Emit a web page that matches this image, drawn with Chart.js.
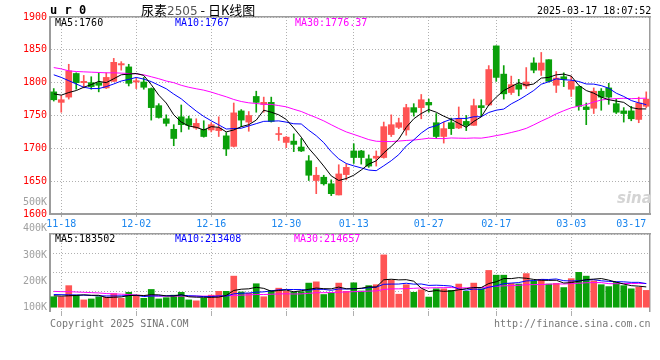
<!DOCTYPE html>
<html><head><meta charset="utf-8">
<script src="https://cdn.jsdelivr.net/npm/chart.js@4/dist/chart.umd.min.js"></script>
<style>
html,body{margin:0;padding:0;background:#fff;width:660px;height:360px;overflow:hidden;}
#wrap{position:relative;width:660px;height:360px;}
canvas{position:absolute;left:0;}
.t{position:absolute;white-space:nowrap;font-family:"DejaVu Sans Mono",monospace;font-size:10px;line-height:12px;}
</style></head><body>
<div id="wrap">
<canvas id="pc" width="660" height="234" style="top:0px"></canvas>
<canvas id="vc" width="660" height="124" style="top:196px"></canvas>
<div class="t" id="code" style="left:50px;top:3px;font-weight:bold;font-size:12px;line-height:14px;">u r 0</div>
<div class="t" id="ttl" style="left:141px;top:2px;font-family:'Noto Sans CJK SC',sans-serif;font-size:13px;line-height:16px;"></div>
<div class="t" id="stamp" style="left:537px;top:5px;"></div>
<div class="t" id="pl0" style="left:55px;top:17px;color:#000"></div>
<div class="t" id="pl1" style="left:175px;top:17px;color:#0000ff"></div>
<div class="t" id="pl2" style="left:295px;top:17px;color:#ff00ff"></div>
<div class="t" id="vl0" style="left:55px;top:233px;color:#000"></div>
<div class="t" id="vl1" style="left:175px;top:233px;color:#0000ff"></div>
<div class="t" id="vl2" style="left:294px;top:233px;color:#ff00ff"></div>
<div class="t" id="copy" style="left:50px;top:318px;color:#777"></div>
<div class="t" id="url" style="left:494px;top:318px;color:#777"></div>
<div class="t" id="wm" style="left:617px;top:190px;color:#d4d4d4;font-family:'DejaVu Sans',sans-serif;font-style:italic;font-weight:bold;font-size:15px;line-height:16px;">sina</div>
</div>
<script>
// ---- data ----
const dates = ['11-15','11-18','11-19','11-20','11-21','11-22','11-25','11-26','11-27','11-28','11-29','12-02','12-03','12-04','12-05','12-06','12-09','12-10','12-11','12-12','12-13','12-16','12-17','12-18','12-19','12-20','12-23','12-24','12-25','12-26','12-27','12-30','12-31','01-02','01-03','01-06','01-07','01-08','01-09','01-10','01-13','01-14','01-15','01-16','01-17','01-20','01-21','01-22','01-23','01-24','01-27','02-05','02-06','02-07','02-10','02-11','02-12','02-13','02-14','02-17','02-18','02-19','02-20','02-21','02-24','02-25','02-26','02-27','02-28','03-03','03-04','03-05','03-06','03-07','03-10','03-11','03-12','03-13','03-14','03-17'];
const xTickLabels = ['11-18','12-02','12-16','12-30','01-13','01-27','02-17','03-03','03-17'];
const priceTicks = [1600,1650,1700,1750,1800,1850,1900];
const volTickValues = [100000,200000,300000,400000,500000];
const volTickLabels = ['100K','200K','300K','400K','500K'];

const opens  = [1786,1770,1778,1814,1800,1800,1800,1792,1802,1827,1824,1801,1801,1791,1765,1745,1729,1748,1745,1731,1729,1728,1727,1719,1703,1757,1740,1779,1767,1770,1721,1709,1711,1702,1681,1651,1656,1646,1629,1660,1696,1696,1684,1685,1686,1721,1732,1728,1762,1762,1770,1739,1718,1739,1731,1741,1735,1765,1766,1856,1813,1785,1797,1795,1830,1819,1835,1796,1809,1790,1794,1763,1761,1787,1792,1768,1757,1757,1744,1764];
const highs  = [1791,1780,1828,1815,1811,1809,1815,1815,1837,1832,1828,1807,1808,1792,1768,1751,1736,1766,1749,1745,1742,1739,1748,1724,1769,1759,1756,1787,1778,1778,1732,1718,1722,1715,1689,1671,1659,1652,1675,1676,1707,1697,1690,1696,1740,1751,1746,1767,1768,1782,1775,1753,1740,1746,1763,1750,1775,1774,1826,1856,1826,1810,1805,1823,1838,1846,1835,1817,1815,1810,1795,1769,1792,1791,1799,1775,1762,1764,1778,1786];
const lows   = [1772,1755,1775,1790,1792,1790,1786,1791,1802,1819,1795,1791,1790,1743,1746,1734,1704,1725,1729,1729,1717,1725,1718,1689,1702,1733,1726,1755,1755,1740,1712,1701,1695,1695,1651,1631,1644,1628,1629,1652,1677,1676,1671,1673,1685,1718,1730,1720,1749,1745,1755,1715,1708,1721,1730,1727,1735,1749,1765,1802,1775,1782,1780,1791,1815,1811,1801,1785,1794,1779,1758,1736,1753,1758,1767,1753,1740,1742,1739,1762];
const closes = [1774,1774,1818,1800,1802,1794,1796,1808,1831,1829,1799,1803,1793,1762,1747,1738,1715,1736,1735,1738,1718,1736,1731,1699,1754,1743,1750,1770,1770,1741,1722,1717,1706,1696,1659,1659,1646,1631,1661,1671,1686,1686,1673,1688,1733,1736,1739,1762,1755,1774,1766,1718,1730,1730,1745,1735,1765,1762,1820,1808,1783,1797,1790,1801,1819,1830,1802,1807,1805,1802,1764,1759,1787,1778,1778,1755,1753,1745,1769,1775];

const ma5  = [1783,1781,1785,1788,1793,1797,1802,1800,1806,1812,1813,1814,1811,1797,1781,1769,1751,1740,1734,1732,1728,1733,1732,1725,1728,1733,1736,1743,1758,1755,1751,1744,1731,1717,1700,1687,1673,1658,1651,1654,1659,1667,1676,1681,1693,1703,1714,1732,1745,1753,1759,1755,1749,1744,1738,1732,1741,1748,1766,1778,1788,1794,1800,1796,1798,1807,1808,1812,1813,1810,1796,1788,1784,1778,1774,1772,1770,1762,1760,1760];
const ma10 = [1812,1808,1803,1798,1793,1791,1791,1794,1798,1802.5,1805,1808,1805.4,1801.6,1796.2,1790.7,1782.6,1775.4,1765.8,1756.7,1748.6,1741.9,1735.7,1729.4,1730.1,1730.6,1734.1,1737.6,1741.1,1741.4,1741.8,1739.9,1737.4,1737.1,1727.6,1719.2,1708.7,1694.8,1683.9,1676.9,1673.3,1670.2,1666.9,1666,1673.4,1681.2,1690.4,1703.6,1712.9,1723.3,1731.3,1734.5,1740.2,1744.4,1745.6,1745.5,1748.1,1748.1,1754.6,1758.1,1759.8,1767.7,1773.7,1780.7,1788.1,1797.6,1801.4,1805.9,1804.4,1803.8,1801.8,1798,1797.8,1795.5,1791.5,1784,1779,1772.8,1769.3,1766.6];
const ma30 = [1823,1821,1818,1817,1816.5,1816,1815.5,1815,1815,1814.5,1814,1813.5,1812,1809,1806,1802.5,1800,1796,1793,1790.7,1788.6,1785.6,1782,1778.5,1774.4,1771.3,1769.3,1768.3,1767,1766.9,1765.1,1763.2,1759.5,1756.1,1751.3,1746.8,1741.8,1735.9,1730.2,1725,1721.2,1717.3,1713.3,1710.8,1710.4,1710.3,1711.1,1712,1712.6,1713.9,1715.4,1714.9,1714.8,1715.8,1715.5,1715.3,1715.8,1715.5,1717.2,1719.4,1721.4,1724.1,1726.9,1730.4,1735.7,1741.4,1746.6,1752.5,1757.3,1761.7,1764.3,1766.7,1770.5,1773.6,1775.1,1775.7,1776.2,1775.6,1776.1,1776.4];

const volumes = [94600,94600,195000,109000,66000,74600,94600,91800,123300,80300,134800,109000,80300,160600,74600,86000,109000,134800,66000,57400,80300,109000,143400,143400,281100,137700,126200,212200,94600,152000,172100,143400,134800,140500,218000,229400,114700,129100,218000,143400,220800,146300,195000,203600,473200,246600,117600,203600,134800,157700,91800,166300,166300,152000,209400,143400,218000,166300,332700,289700,289700,215100,209400,304000,238000,252400,209400,215100,177800,258100,315500,281100,238000,203600,186400,223700,195000,166300,180700,152000];
const volMa5  = [103200,100400,103200,106100,111900,107800,107800,87200,90100,92900,105000,107800,105500,113000,111900,102100,102100,113000,94100,90600,89500,89500,91200,106700,151400,162900,166300,180100,170400,144500,151400,154900,139400,148600,161800,173200,167500,166300,181800,166900,165200,171500,184700,181800,247800,253000,247200,248900,235200,172100,141100,150900,143400,146800,157200,167500,177800,177800,214000,230000,259300,258700,267300,261600,251200,243800,242600,243800,218500,222600,235200,249500,254100,259300,244900,226600,209400,195000,190400,183500];
const volMa10 = [114700,113300,111900,110400,109000,106100,103200,101800,101800,102400,106400,107800,96400,101500,102400,103500,105000,109300,103500,101200,95800,95800,102100,100400,121000,126200,127900,135700,138500,148000,157200,160600,159700,159500,153200,162300,161200,152900,165200,164300,169200,169500,175500,181800,207400,209100,209400,216800,208500,209900,197000,199000,196200,191000,164600,154300,164300,160600,180400,193600,213400,218300,222600,237800,240600,251500,250700,255500,240100,236900,239500,246100,248900,238900,233700,230900,229400,224600,224900,213400];
const volMa30 = [143400,140500,140500,137700,134800,131900,129100,123300,120500,117600,114700,109000,106100,103200,100400,100400,100400,100400,100400,100400,100400,100400,100400,103200,106100,109000,111900,114700,114700,117300,119900,121300,119300,120500,125600,130800,131400,132500,135700,138000,140800,142000,145700,147100,160600,165800,166100,168400,170600,174100,174400,176400,177200,177500,174900,175200,178400,176700,184700,189300,193300,195600,198200,203600,204200,205100,208200,211100,209700,213400,216500,221100,222600,222600,213100,212200,214800,213700,215100,214700];

const priceLegend = ['MA5:1760','MA10:1767','MA30:1776.37'];
const volLegend = ['MA5:183502','MA10:213408','MA30:214657'];
const titleParts = ['尿素','2505',' - 日K线图'];
const stampText = '2025-03-17 18:07:52';
const footer = ['Copyright 2025 SINA.COM','http://finance.sina.com.cn'];

// ---- texts ----
document.getElementById('ttl').innerHTML = '<span>'+titleParts[0]+'</span><span style="color:#555;font-family:\'DejaVu Sans\',sans-serif;font-size:12px">'+titleParts[1]+'</span><span>'+titleParts[2]+'</span>';
document.getElementById('stamp').textContent = stampText;
['pl0','pl1','pl2'].forEach((id,i)=>document.getElementById(id).textContent = priceLegend[i]);
['vl0','vl1','vl2'].forEach((id,i)=>document.getElementById(id).textContent = volLegend[i]);
document.getElementById('copy').textContent = footer[0];
document.getElementById('url').textContent = footer[1];

// ---- styling ----
const RED = '#ff5454', GREEN = '#0aa00a', GRID = '#b0b0b0', AXIS = '#9c9c9c', CLEAR = 'rgba(0,0,0,0)';
const FONT = {family:'DejaVu Sans Mono', size:10};
const colors = closes.map((c,i)=> c >= opens[i] ? RED : GREEN);
const bodies = opens.map((o,i)=>[o, closes[i]]);
const wicks = lows.map((l,i)=>[l, highs[i]]);
const lastIdx = dates.length - 1;

function keepTicks(s){ s.ticks = s.ticks.filter(t => t.value === 0 || xTickLabels.includes(dates[t.value])); }
function xGridColor(ctx){ return (ctx.index === 0 || (ctx.tick && ctx.tick.value === lastIdx)) ? CLEAR : GRID; }
function line(data, color, y){ return {type:'line', data, borderColor:color, borderWidth:1, pointRadius:0, tension:0, order:0, xAxisID:'x', yAxisID:y}; }
function borderAxis(pos, type){
  const o = {position:pos, display:true, ticks:{display:false}, grid:{display:false, drawTicks:false},
    border:{display:true, color:AXIS, width:1.5}};
  if (type) o.type = type; else { o.min = 0; o.max = 1; }
  if (pos === 'top') o.afterFit = s => { s.height = 0; }; else o.afterFit = s => { s.width = 0; };
  return o;
}

new Chart(document.getElementById('pc'), {
  type:'bar',
  data:{labels:dates, datasets:[
    line(ma5,'#000000','y'), line(ma10,'#0000ff','y'), line(ma30,'#ff00ff','y'),
    {data:bodies, backgroundColor:colors, barThickness:6, minBarLength:1, grouped:false, borderWidth:0, order:1, xAxisID:'x', yAxisID:'y'},
    {data:wicks, backgroundColor:colors, barThickness:1, grouped:false, borderWidth:0, order:2, xAxisID:'x', yAxisID:'y'}
  ]},
  options:{
    responsive:false, animation:false, devicePixelRatio:1,
    layout:{padding:{top:17, right:10, left:0, bottom:0}},
    plugins:{legend:{display:false}, tooltip:{enabled:false}},
    scales:{
      x:{type:'category', position:'bottom', offset:true,
        grid:{offset:false, color:xGridColor, lineWidth:1, drawTicks:true, tickLength:3},
        border:{display:true, color:AXIS, width:2, dash:[1,2]},
        ticks:{autoSkip:false, maxRotation:0, minRotation:0, align:'inner', padding:1, color:'#1c86ee', font:FONT,
          callback:function(v){ const l = dates[v]; return xTickLabels.includes(l) ? l : ''; }},
        afterBuildTicks:keepTicks,
        afterFit:s=>{ s.height = 20; }},
      xt:borderAxis('top','category'),
      y:{position:'left', min:1600, max:1900,
        afterBuildTicks:s=>{ s.ticks = priceTicks.map(v=>({value:v})); },
        ticks:{color:'#ff0000', font:FONT, padding:3, autoSkip:false, callback:v=>String(v)},
        grid:{color:GRID, lineWidth:1, drawTicks:false},
        border:{display:true, color:AXIS, width:2, dash:[1,2]},
        afterFit:s=>{ s.width = 50; }},
      yr:borderAxis('right')
    }
  }
});

new Chart(document.getElementById('vc'), {
  type:'bar',
  data:{labels:dates, datasets:[
    line(volMa5,'#000000','yv'), line(volMa10,'#0000ff','yv'), line(volMa30,'#ff00ff','yv'),
    {data:volumes, backgroundColor:colors, barThickness:6, borderWidth:0, order:1, xAxisID:'x', yAxisID:'yv'}
  ]},
  options:{
    responsive:false, animation:false, devicePixelRatio:1,
    layout:{padding:{top:38, right:10, left:0, bottom:0}},
    plugins:{legend:{display:false}, tooltip:{enabled:false}},
    scales:{
      x:{type:'category', position:'bottom', offset:true,
        grid:{offset:false, color:xGridColor, lineWidth:1, drawTicks:true, tickLength:5},
        border:{display:false, dash:[1,2]},
        ticks:{display:false, autoSkip:false, maxRotation:0},
        afterBuildTicks:keepTicks,
        afterFit:s=>{ s.height = 5; }},
      xt:borderAxis('top','category'),
      yl:{position:'left', min:85500, max:380000,
        afterBuildTicks:s=>{ s.ticks = volTickValues.map(v=>({value:v})); },
        ticks:{color:'#a0a0a0', font:FONT, padding:3, autoSkip:false, callback:(v,i)=>volTickLabels[i]},
        grid:{display:false, drawTicks:false},
        border:{display:true, color:AXIS, width:2},
        afterFit:s=>{ s.width = 50; }},
      yv:{display:false, min:-34400, max:662200},
      yg:{position:'right', min:0, max:4,
        ticks:{display:false, stepSize:1},
        grid:{color:ctx => (ctx.tick && ctx.tick.value === 0) ? CLEAR : GRID, lineWidth:1, drawTicks:false},
        border:{display:true, color:AXIS, width:1.5, dash:[1,2]},
        afterFit:s=>{ s.width = 0; }}
    }
  }
});
</script>
</body></html>
